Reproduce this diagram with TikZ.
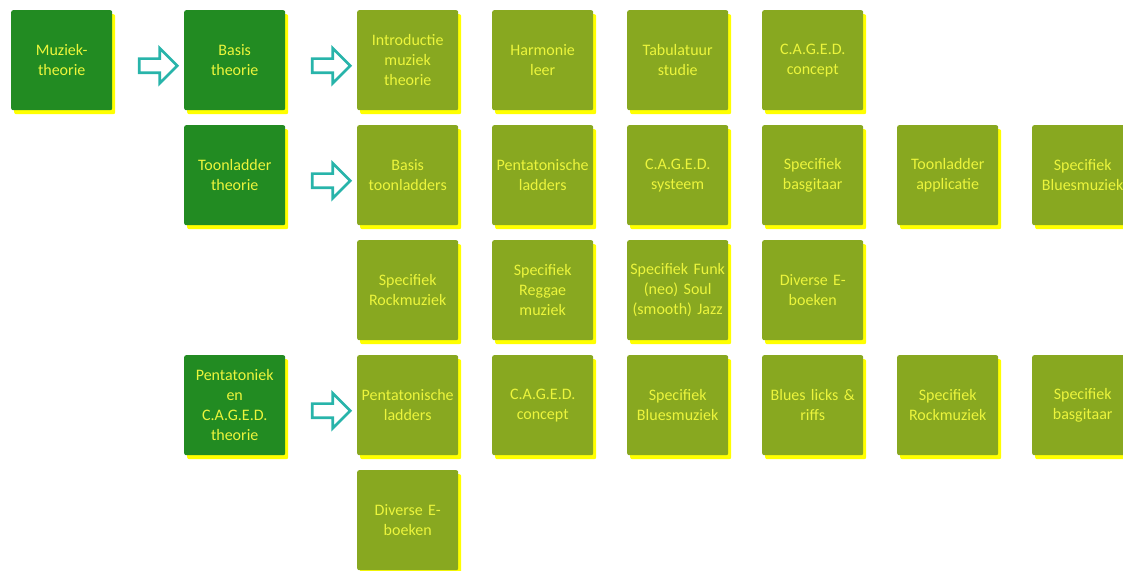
\documentclass[tikz,border=0pt]{standalone}
\usepackage{fontspec}
\setmainfont{Carlito}
\usetikzlibrary{shapes.arrows,shadows,calc}
\definecolor{donkergroen}{RGB}{34,139,34}
\definecolor{olijf}{RGB}{136,168,32}
\definecolor{tekstgeel}{RGB}{236,245,60}
\definecolor{schaduw}{RGB}{255,255,0}
\definecolor{pijlblauw}{RGB}{40,180,170}

\begin{document}
\begin{tikzpicture}
\tikzstyle{blok} = [rectangle, rounded corners=2pt, minimum width=101pt,
minimum height=100pt, text width=99pt, inner sep=1pt, align=center,
text=tekstgeel, font=\fontsize{16}{20}\selectfont,
general shadow={fill=schaduw, shadow xshift=3pt, shadow yshift=-4pt}]
\tikzstyle{hoofd} = [blok, fill=donkergroen]
\tikzstyle{onder} = [blok, fill=olijf]
\tikzstyle{pijl} = [single arrow, draw=pijlblauw, line width=2.7pt, fill=white,
inner xsep=0pt, inner ysep=5.75pt, single arrow head extend=10.5pt,
minimum height=38pt, minimum width=32pt]

\useasboundingbox (0,0) rectangle (1123pt,-570pt);
\clip (0,0) rectangle (1123pt,-570pt);

\matrix (kaart) [matrix anchor=north west, inner sep=0pt, column sep=34pt, row sep=15pt] at (11pt,-10pt)
{
% rij 1
\node [hoofd] (muziek) {Muziek-\\theorie}; &[38pt]
\node [hoofd] (basis) {Basis\\theorie}; &[38pt]
\node [onder] (intro) {Introductie\\muziek\\theorie}; &
\node [onder] (harmonie) {Harmonie\\leer}; &
\node [onder] (tabulatuur) {Tabulatuur\\studie}; &
\node [onder] (caged1) {C.A.G.E.D.\\concept}; & & \\
% rij 2
&
\node [hoofd] (toonladder) {Toonladder\\theorie}; &
\node [onder] (basisladders) {Basis\\toonladders}; &
\node [onder] (penta1) {Pentatonische\\ladders}; &
\node [onder] (caged2) {C.A.G.E.D.\\systeem}; &
\node [onder] (bas1) {Specifiek\\basgitaar}; &
\node [onder] (applicatie) {Toonladder\\applicatie}; &
\node [onder] (blues1) {Specifiek\\Bluesmuziek}; \\
% rij 3
& &
\node [onder] (rock1) {Specifiek\\Rockmuziek}; &
\node [onder] (reggae) {Specifiek\\Reggae\\muziek}; &
\node [onder] (funk) {Specifiek Funk\\(neo) Soul\\(smooth) Jazz}; &
\node [onder] (boeken1) {Diverse E-\\boeken}; & & \\
% rij 4
&
\node [hoofd] (pentatoniek) {Pentatoniek\\en\\C.A.G.E.D.\\theorie}; &
\node [onder] (penta2) {Pentatonische\\ladders}; &
\node [onder] (caged3) {C.A.G.E.D.\\concept}; &
\node [onder] (blues2) {Specifiek\\Bluesmuziek}; &
\node [onder] (licks) {Blues licks \&\\riffs}; &
\node [onder] (rock2) {Specifiek\\Rockmuziek}; &
\node [onder] (bas2) {Specifiek\\basgitaar}; \\
% rij 5
& &
\node [onder] (boeken2) {Diverse E-\\boeken}; & & & & & \\
};

% pijlen tussen de blokken
\node [pijl] (pijl1) at ($(muziek.east)!0.5!(basis.west)+(6.5pt,-5.5pt)$) {};
\node [pijl] (pijl2) at ($(basis.east)!0.5!(intro.west)+(6.5pt,-5.5pt)$) {};
\node [pijl] (pijl3) at ($(toonladder.east)!0.5!(basisladders.west)+(6.5pt,-5.5pt)$) {};
\node [pijl] (pijl4) at ($(pentatoniek.east)!0.5!(penta2.west)+(6.5pt,-5.5pt)$) {};

\end{tikzpicture}
\end{document}
